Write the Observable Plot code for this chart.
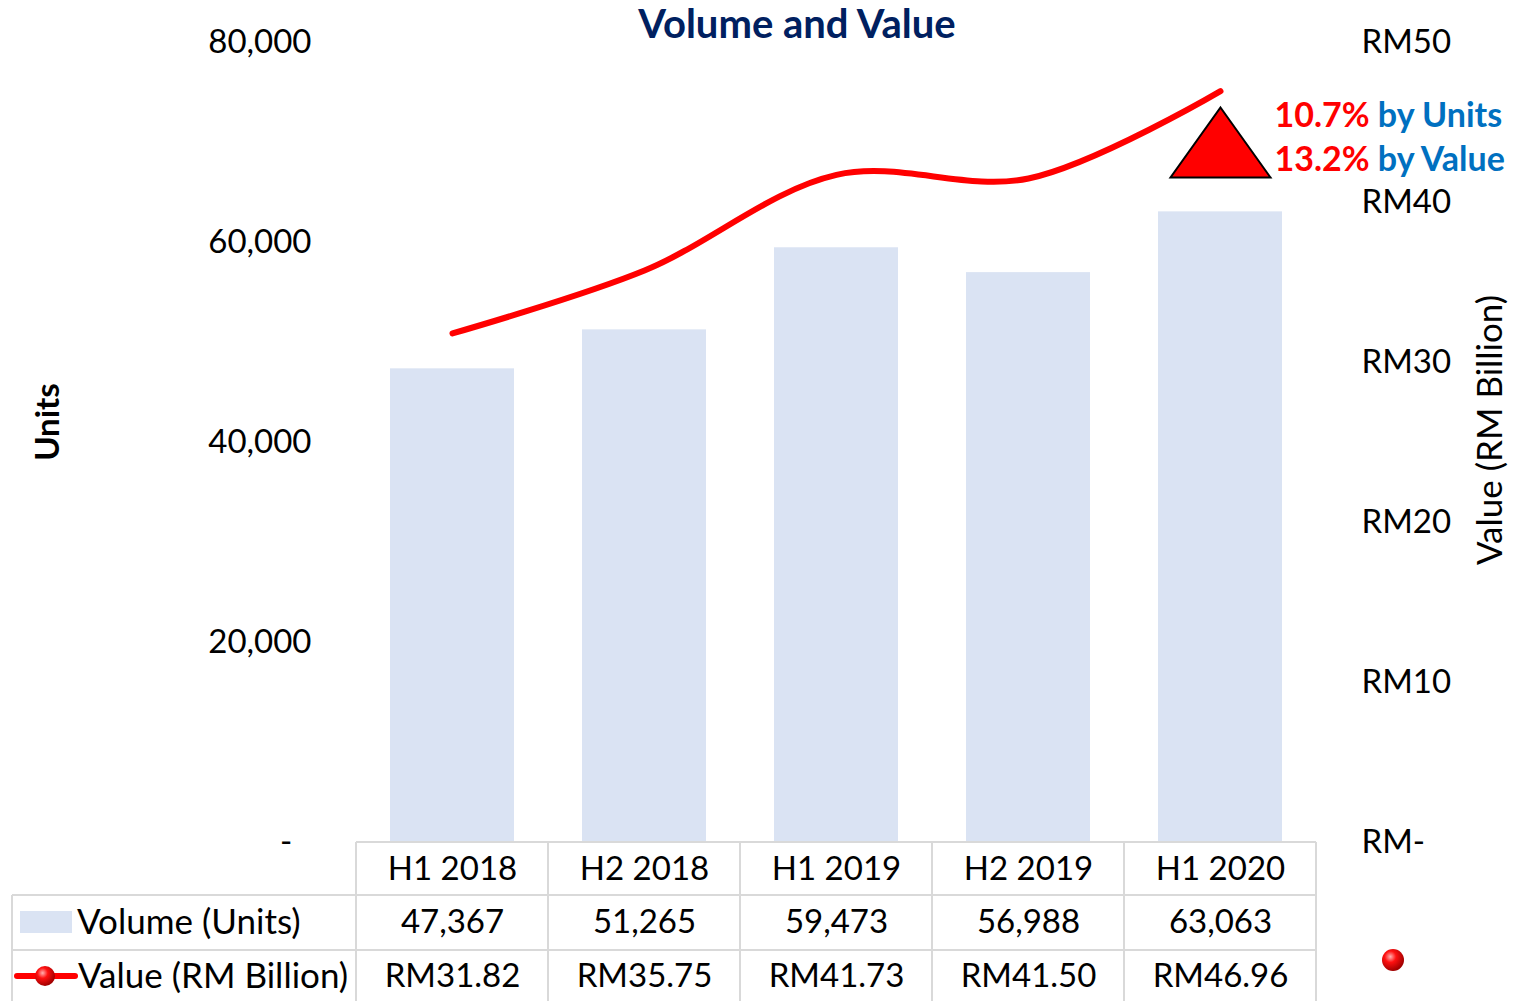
<!DOCTYPE html>
<html><head><meta charset="utf-8">
<script src="https://cdn.jsdelivr.net/npm/d3@7"></script>
<script src="https://cdn.jsdelivr.net/npm/@observablehq/plot@0.6"></script>
<style>html,body{margin:0;padding:0;background:#fff;overflow:hidden}</style>
</head><body><div id="chart"></div>
<script>
const periods = ["H1 2018","H2 2018","H1 2019","H2 2019","H1 2020"];
const volumeUnits = [47367,51265,59473,56988,63063];
const valueRMBillion = [31.82,35.75,41.73,41.50,46.96];
const unitTicks = [0,20000,40000,60000,80000];
const valueTicks = [0,10,20,30,40,50];
const growthPct = ["10.7%","13.2%"];
const growthBy = ["by Units","by Value"];
const seriesNames = ["Volume (Units)","Value (RM Billion)"];
const titleText = "Volume and Value";
const leftAxisTitle = "Units";
const rightAxisTitle = "Value (RM Billion)";

const unitMax = d3.max(unitTicks), valueMax = d3.max(valueTicks);
const k = unitMax / valueMax;
const rows = periods.map((p,i)=>({period:p, volume:volumeUnits[i], value:valueRMBillion[i]}));
const fmtN = d3.format(",");
const fmtRM = d => "RM" + d.toFixed(2);

const W=1514,H=1001, mL=355, mR=197, mT=42, mB=159;
const FONT = "Lato, 'Open Sans', sans-serif";
const RED="#FF0000", BAR="#DAE3F3", GRID="#D9D9D9";

const tri = {draw(ctx){ ctx.moveTo(0,-35); ctx.lineTo(50,35); ctx.lineTo(-50,35); ctx.closePath(); }};
const last = periods[periods.length-1];

const marks = [
  Plot.barY(rows,{x:"period", y:"volume", fill:BAR}),
  Plot.line(rows,{x:"period", y:d=>d.value*k, stroke:RED, strokeWidth:6, curve:"catmull-rom", strokeLinecap:"round"}),
  Plot.text(valueTicks,{y:d=>d*k, frameAnchor:"right", dx:44, textAnchor:"start", text:d=> d===0?"RM-":"RM"+d, fill:"#000"}),
  Plot.dot([last],{x:d=>d, frameAnchor:"top", dy:100, symbol:tri, fill:RED, stroke:"#000", strokeWidth:2, r:10}),
  Plot.text(rows,{x:"period", frameAnchor:"bottom", lineAnchor:"middle", dy:27, text:"period", fill:"#000"}),
  Plot.text(rows,{x:"period", frameAnchor:"bottom", lineAnchor:"middle", dy:80, text:d=>fmtN(d.volume), fill:"#000"}),
  Plot.text(rows,{x:"period", frameAnchor:"bottom", lineAnchor:"middle", dy:134, text:d=>fmtRM(d.value), fill:"#000"})
];
growthPct.forEach((g,i)=>{
  marks.push(Plot.text([g],{x:()=>last, frameAnchor:"top", lineAnchor:"middle", dx:54, dy:74+i*44, textAnchor:"start", text:d=>d, fill:RED, fontWeight:"bold", fontSize:34}));
});

const plot = Plot.plot({
  width:W, height:H, marginLeft:mL, marginRight:mR, marginTop:mT, marginBottom:mB,
  style:{fontFamily:FONT, fontSize:"33px", color:"#000", background:"#fff", overflow:"visible"},
  x:{domain:periods, paddingInner:0.355, paddingOuter:0.1775, axis:null},
  y:{domain:[0,unitMax], ticks:unitTicks, tickFormat:d=> d===0 ? "-\u2007" : fmtN(d), tickSize:0, tickPadding:44, label:null, axis:"left"},
  marks
});
document.getElementById("chart").appendChild(plot);

const svg = d3.select(plot);
// growth text: add blue tspans
growthPct.forEach((g,i)=>{
  svg.selectAll("text").filter(function(){ return this.textContent === g; }).each(function(){
    d3.select(this).append("tspan").attr("fill","#0070C0").text(" "+growthBy[i]);
  });
});

const defs = svg.append("defs");
const rg = defs.append("radialGradient").attr("id","ball").attr("cx","38%").attr("cy","35%").attr("r","65%");
rg.append("stop").attr("offset","0%").attr("stop-color","#ffb0b0");
rg.append("stop").attr("offset","40%").attr("stop-color","#ff1010");
rg.append("stop").attr("offset","100%").attr("stop-color","#a00000");

// table grid
const xs = plot.scale("x");
const step = xs.step, bw = xs.bandwidth;
const edges = periods.map(p => xs.apply(p) + bw/2 - step/2);
edges.push(edges[edges.length-1] + step);
const fb = H - mB, tableLeft = 12, row1 = fb + 53, row2 = fb + 108;
const g = svg.append("g").attr("stroke",GRID).attr("stroke-width",2);
g.append("line").attr("x1",edges[0]).attr("x2",edges[edges.length-1]).attr("y1",fb).attr("y2",fb);
[row1,row2].forEach(y=> g.append("line").attr("x1",tableLeft).attr("x2",edges[edges.length-1]).attr("y1",y).attr("y2",y));
edges.forEach(x=> g.append("line").attr("x1",x).attr("x2",x).attr("y1",fb).attr("y2",H));
g.append("line").attr("x1",tableLeft).attr("x2",tableLeft).attr("y1",row1).attr("y2",H);

// legend in table
const lg = svg.append("g").attr("font-family",FONT).attr("font-size",35).attr("text-anchor","start");
lg.append("rect").attr("x",20).attr("y",fb+69).attr("width",52).attr("height",22).attr("fill",BAR);
lg.append("text").attr("x",77).attr("y",fb+80).attr("dy","0.35em").text(seriesNames[0]);
lg.append("line").attr("x1",17).attr("x2",75).attr("y1",fb+134).attr("y2",fb+134).attr("stroke",RED).attr("stroke-width",6).attr("stroke-linecap","round");
lg.append("circle").attr("cx",45).attr("cy",fb+134).attr("r",10).attr("fill","url(#ball)");
lg.append("text").attr("x",78).attr("y",fb+134).attr("dy","0.35em").text(seriesNames[1]);
svg.append("circle").attr("cx",1393).attr("cy",960).attr("r",11).attr("fill","url(#ball)");

// titles
svg.append("text").attr("x",797).attr("y",38).attr("text-anchor","middle").attr("font-family",FONT)
  .attr("font-size",40).attr("font-weight","bold").attr("fill","#002060").text(titleText);
svg.append("text").attr("transform","translate(47,422) rotate(-90)").attr("text-anchor","middle").attr("dy","0.35em")
  .attr("font-family",FONT).attr("font-size",33).attr("font-weight","bold").text(leftAxisTitle);
svg.append("text").attr("transform","translate(1490,430) rotate(-90)").attr("text-anchor","middle").attr("dy","0.35em")
  .attr("font-family",FONT).attr("font-size",35).text(rightAxisTitle);
</script>
</body></html>
